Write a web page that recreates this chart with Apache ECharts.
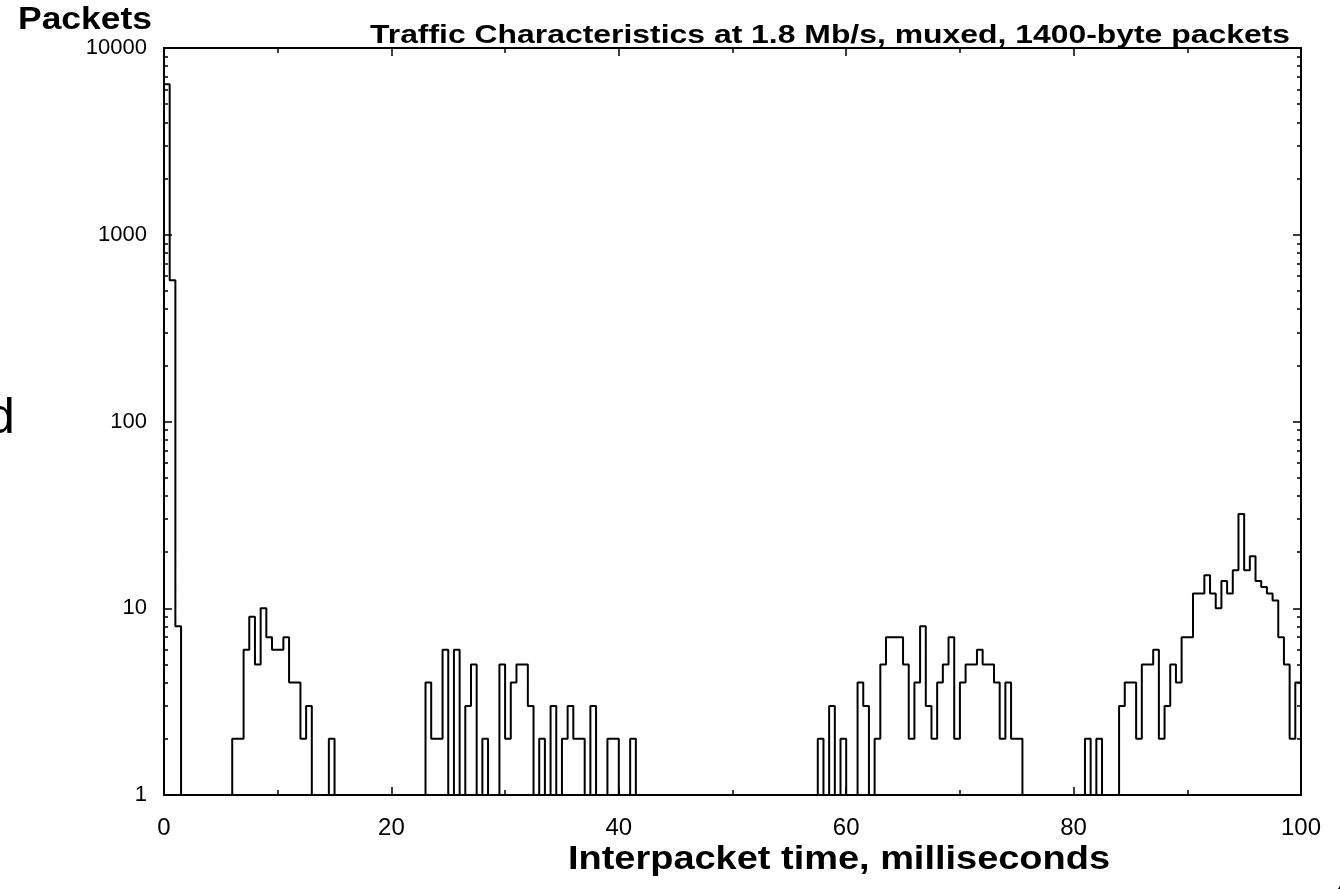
<!DOCTYPE html>
<html>
<head>
<meta charset="utf-8">
<script src="https://cdn.jsdelivr.net/npm/echarts/dist/echarts.min.js"></script>
<style>
html,body{margin:0;padding:0;background:#fff;overflow:hidden}
#chart{width:1340px;height:889px}
</style>
</head>
<body>
<div id="chart"></div>
<script>
// ---- data ----
const binWidthMs = 0.5;            // histogram bin width, milliseconds
// packet counts per 0.5 ms bin, 0 .. 100 ms (empty bins drawn at the axis floor, 1)
const counts = [
  6400, 570, 8, 1, 1, 1, 1, 1, 1, 1,      // 0.0 - 4.5
  1, 1, 2, 2, 6, 9, 5, 10, 7, 6,         // 5.0 - 9.5
  6, 7, 4, 4, 2, 3, 1, 1, 1, 2,          // 10.0 - 14.5
  1, 1, 1, 1, 1, 1, 1, 1, 1, 1,          // 15.0 - 19.5
  1, 1, 1, 1, 1, 1, 4, 2, 2, 6,          // 20.0 - 24.5
  1, 6, 1, 3, 5, 1, 2, 1, 1, 5,          // 25.0 - 29.5
  2, 4, 5, 5, 3, 1, 2, 1, 3, 1,          // 30.0 - 34.5
  2, 3, 2, 2, 1, 3, 1, 1, 2, 2,          // 35.0 - 39.5
  1, 1, 2, 1, 1, 1, 1, 1, 1, 1,          // 40.0 - 44.5
  1, 1, 1, 1, 1, 1, 1, 1, 1, 1,          // 45.0 - 49.5
  1, 1, 1, 1, 1, 1, 1, 1, 1, 1,          // 50.0 - 54.5
  1, 1, 1, 1, 1, 2, 1, 3, 1, 2,          // 55.0 - 59.5
  1, 1, 4, 3, 1, 2, 5, 7, 7, 7,          // 60.0 - 64.5
  5, 2, 4, 8, 3, 2, 4, 5, 7, 2,          // 65.0 - 69.5
  4, 5, 5, 6, 5, 5, 4, 2, 4, 2,          // 70.0 - 74.5
  2, 1, 1, 1, 1, 1, 1, 1, 1, 1,          // 75.0 - 79.5
  1, 1, 2, 1, 2, 1, 1, 1, 3, 4,          // 80.0 - 84.5
  4, 2, 5, 5, 6, 2, 3, 5, 4, 7,          // 85.0 - 89.5
  7, 12, 12, 15, 12, 10, 14, 12, 16, 32, // 90.0 - 94.5
  16, 19, 14, 13, 12, 11, 7, 5, 2, 4     // 95.0 - 99.5
];
const xTickLabels = ['0', '20', '40', '60', '80', '100'];
const yTickLabels = ['1', '10', '100', '1000', '10000'];
const titleText = 'Traffic Characteristics at 1.8 Mb/s, muxed, 1400-byte packets';
const yAxisTitle = 'Packets';
const xAxisTitle = 'Interpacket time, milliseconds';

// ---- build ----
const FONT = '"Liberation Sans", Arial, Helvetica, sans-serif';
const stepPoints = counts.map((c, i) => [i * binWidthMs, c]);
stepPoints.push([counts.length * binWidthMs, counts[counts.length - 1]]);

const xMin = Number(xTickLabels[0]), xMax = Number(xTickLabels[xTickLabels.length - 1]);
const yMin = Number(yTickLabels[0]), yMax = Number(yTickLabels[yTickLabels.length - 1]);

const mctx = document.createElement('canvas').getContext('2d');
function textWidth(str, font) { mctx.font = font; return mctx.measureText(str).width; }
function stretchedText(str, size, weight, left, capTop, targetWidth) {
  const font = weight + ' ' + size + 'px ' + FONT;
  const w = textWidth(str, font);
  return {
    type: 'text', x: left, y: capTop - Math.round(size * 0.17),
    scaleX: targetWidth ? targetWidth / w : 1,
    silent: true,
    style: { text: str, font: font, fill: '#000', textAlign: 'left', textVerticalAlign: 'top', align: 'left', verticalAlign: 'top' }
  };
}

const axisLineStyle = { color: '#000', width: 2 };
function xAxisDef(pos, showLabel) {
  return {
    type: 'value', position: pos, min: xMin, max: xMax, interval: 20,
    axisLine: { show: true, onZero: false, lineStyle: axisLineStyle },
    axisTick: { show: true, inside: true, length: 8, lineStyle: { color: '#000', width: 1.5 } },
    minorTick: { show: true, splitNumber: 2, length: 5, lineStyle: { color: '#000', width: 1.5 } },
    splitLine: { show: false },
    axisLabel: {
      show: showLabel, color: '#000', fontSize: 24, fontFamily: FONT, margin: 21,
      formatter: v => xTickLabels[xTickLabels.indexOf(String(v))] || ''
    }
  };
}
function yAxisDef(pos, showLabel) {
  return {
    type: 'log', logBase: 10, position: pos, min: yMin, max: yMax,
    axisLine: { show: true, onZero: false, lineStyle: axisLineStyle },
    axisTick: { show: true, inside: true, length: 8, lineStyle: { color: '#000', width: 1.5 } },
    minorTick: { show: true, splitNumber: 9, length: 4, lineStyle: { color: '#000', width: 1.5 } },
    splitLine: { show: false },
    axisLabel: {
      show: showLabel, color: '#000', fontSize: 22, fontFamily: FONT, margin: 17,
      padding: [12, 0, 0, 0],
      formatter: v => { const s = String(Math.round(v)); return yTickLabels.indexOf(s) >= 0 ? s : ''; }
    }
  };
}

const chart = echarts.init(document.getElementById('chart'), null, { renderer: 'canvas' });
chart.setOption({
  animation: false,
  backgroundColor: '#fff',
  grid: { left: 164, right: 39, top: 48, bottom: 94, containLabel: false },
  xAxis: [xAxisDef('bottom', true), xAxisDef('top', false)],
  yAxis: [yAxisDef('left', true), yAxisDef('right', false)],
  series: [{
    type: 'line', step: 'end', xAxisIndex: 0, yAxisIndex: 0,
    data: stepPoints, showSymbol: false, symbol: 'none',
    lineStyle: { color: '#000', width: 2 }, silent: true
  }],
  graphic: [
    stretchedText(titleText, 26, 'bold', 370, 27, 920),
    stretchedText(yAxisTitle, 32, 'bold', 18, 9, 134),
    stretchedText(xAxisTitle, 33, 'bold', 568, 849, 542),
    { type: 'text', x: -13, y: 394, silent: true,
      style: { text: 'd', font: 'normal 50px ' + FONT, fill: '#000', textVerticalAlign: 'top', verticalAlign: 'top' } },
    { type: 'text', x: 1331, y: 876, silent: true,
      style: { text: '4', font: 'normal 40px ' + FONT, fill: '#000', textVerticalAlign: 'top', verticalAlign: 'top' } }
  ]
});
</script>
</body>
</html>
